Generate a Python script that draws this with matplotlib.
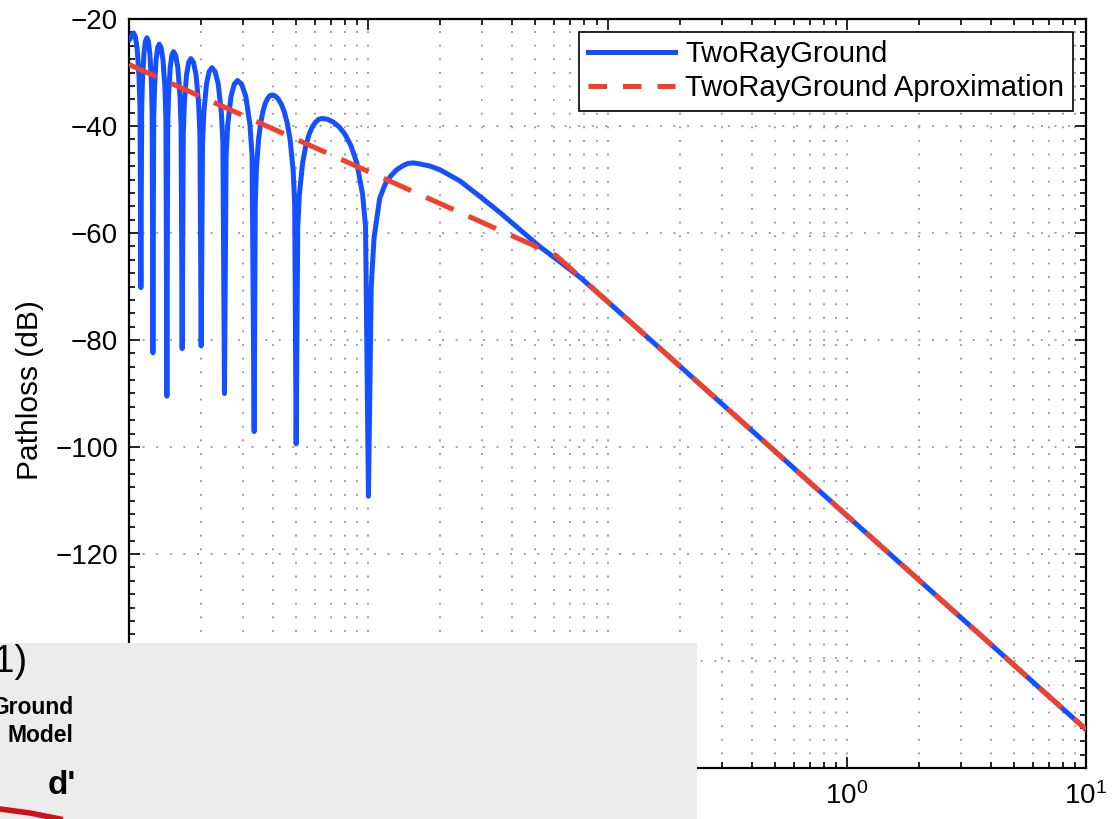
import matplotlib
matplotlib.use("Agg")
import matplotlib.pyplot as plt
import numpy as np
from matplotlib.lines import Line2D
from matplotlib.patches import Rectangle
from matplotlib.ticker import LogLocator, MultipleLocator, NullFormatter

plt.rcParams["font.family"] = ["Liberation Sans", "DejaVu Sans"]

# readings: log10(distance) and path loss in dB
two_ray_logd = [
    -3.0000, -2.9812, -2.9735, -2.9657, -2.9580, -2.9540, -2.9503,
    -2.9471, -2.9440, -2.9377, -2.9315, -2.9252, -2.9189, -2.9127, -2.9064, -2.9033, -2.9001,
    -2.8968, -2.8934, -2.8870, -2.8804, -2.8738, -2.8657, -2.8577, -2.8496, -2.8458, -2.8416,
    -2.8383, -2.8347, -2.8278, -2.8209, -2.8140, -2.8049, -2.7959, -2.7869, -2.7823, -2.7777,
    -2.7731, -2.7685, -2.7595, -2.7504, -2.7413, -2.7305, -2.7198, -2.7092, -2.7037, -2.6983,
    -2.6926, -2.6870, -2.6759, -2.6647, -2.6536, -2.6404, -2.6272, -2.6141, -2.6076, -2.6009,
    -2.5942, -2.5873, -2.5738, -2.5602, -2.5466, -2.5291, -2.5117, -2.4944, -2.4856, -2.4768,
    -2.4722, -2.4676, -2.4584, -2.4491, -2.4398, -2.4306, -2.4212, -2.4121, -2.4028,
    -2.3901, -2.3774, -2.3648, -2.3521, -2.3394, -2.3267, -2.3140, -2.3076, -2.3013,
    -2.2946, -2.2879, -2.2744, -2.2610, -2.2476, -2.2342, -2.2207, -2.2073, -2.1939,
    -2.1695, -2.1452, -2.1208, -2.0965, -2.0722, -2.0478, -2.0235, -2.0113, -1.9992,
    -1.9875, -1.9758, -1.9521, -1.9285, -1.9051, -1.8817, -1.8581, -1.8345, -1.8111,
    -1.7831, -1.7413, -1.6995, -1.6160, -1.5324, -1.4488, -1.3652, -1.2817, -1.1981, -1.1145,
    -1.0, -0.5, 0.0, 0.5, 1.0,
]
two_ray_db = [
    -24.0, -22.6, -23.3, -25.6, -30.9, -36.6, -70.2,
    -37.5, -31.8, -26.5, -24.2, -23.5, -24.2, -26.5, -31.8, -37.5, -82.4,
    -38.7, -33.0, -27.7, -25.4, -24.7, -25.4, -27.7, -33.0, -38.7, -90.5,
    -40.1, -34.4, -29.1, -26.8, -26.1, -26.8, -29.1, -34.4, -40.1, -81.6,
    -41.4, -35.7, -30.4, -28.1, -27.4, -28.1, -30.4, -35.7, -41.4, -81.1,
    -43.1, -37.4, -32.1, -29.8, -29.1, -29.8, -32.1, -37.4, -43.1, -90.0,
    -45.5, -39.8, -34.5, -32.2, -31.5, -32.2, -34.5, -39.8, -45.5, -97.1,
    -54.4, -48.2, -42.5, -39.3, -37.2, -35.8, -34.9, -34.35, -34.2,
    -34.35, -34.9, -35.8, -37.2, -39.3, -42.5, -48.2, -54.4, -99.4,
    -58.8, -52.8, -46.9, -43.7, -41.6, -40.2, -39.3, -38.75, -38.6,
    -38.75, -39.3, -40.2, -41.6, -43.7, -46.9, -52.8, -58.8, -109.2,
    -70.0, -60.9, -53.5, -50.8, -49.3, -48.2, -47.5, -47.0, -46.9,
    -47.1, -47.5, -48.2, -50.3, -53.2, -56.2, -59.4, -62.6, -65.4, -68.3,
    -72.8, -92.8, -112.8, -132.8, -152.8,
]

approx_logd = [-3.0, -1.215, 1.0]
approx_db = [-28.5, -64.2, -152.8]

series_labels = ["TwoRayGround", "TwoRayGround Aproximation"]
y_label = "Pathloss (dB)"

W, H = 1118, 819
BLUE = "#1450ff"
RED = "#f2402b"
GRID = "#a0a0a0"

fig = plt.figure(figsize=(W / 100, H / 100), dpi=100)
ax = fig.add_axes([129 / W, 51 / H, 957 / W, 749 / H])

d_two_ray = 10.0 ** np.array(two_ray_logd)
d_approx = 10.0 ** np.array(approx_logd)

ax.plot(d_two_ray, two_ray_db, color=BLUE, linewidth=3.6,
        solid_joinstyle="round", solid_capstyle="round", zorder=3)
ax.plot(d_approx, approx_db, color=RED, linewidth=3.6, dashes=(6, 3.3), zorder=4)

ax.set_xscale("log")
ax.set_xlim(1e-3, 1e1)
ax.set_ylim(-160, -20)

ax.xaxis.set_major_locator(LogLocator(base=10))
ax.xaxis.set_minor_locator(LogLocator(base=10, subs=np.arange(2, 10)))
ax.xaxis.set_minor_formatter(NullFormatter())
ax.yaxis.set_major_locator(MultipleLocator(20))
ax.yaxis.set_minor_locator(MultipleLocator(2.5))

ax.tick_params(which="both", direction="in", top=True, right=True, labelsize=20, width=1.2)
ax.tick_params(axis="x", which="major", length=8, pad=10)
ax.tick_params(axis="y", which="major", length=8, pad=8)
ax.tick_params(which="minor", length=4)

ax.set_axisbelow(True)
ax.grid(which="major", axis="both", color=GRID, linestyle=(0, (1, 6)), linewidth=1.4)
ax.grid(which="minor", axis="x", color=GRID, linestyle=(0, (1, 6)), linewidth=1.4)

for spine in ax.spines.values():
    spine.set_linewidth(1.6)
    spine.set_color("black")

ax.set_ylabel(y_label, fontsize=21.5)
ax.yaxis.set_label_coords(-0.089, 0.505)

handles = [
    Line2D([], [], color=BLUE, linewidth=3.6),
    Line2D([], [], color=RED, linewidth=3.6, dashes=(3.7, 3.2)),
]
leg = ax.legend(
    handles, series_labels,
    loc="upper right", bbox_to_anchor=(0.9864, 0.983), borderaxespad=0,
    fontsize=21, handlelength=3.0, handletextpad=0.35, labelspacing=0.2,
    borderpad=0.3, fancybox=False, framealpha=1, edgecolor="black",
)
leg.get_frame().set_linewidth(1.2)

# gray slide fragment overlapping the bottom-left of the chart
fig.add_artist(Rectangle((0, 0), 697 / W, 176 / H, transform=fig.transFigure,
                         facecolor="#ececec", edgecolor="none", zorder=5))
fig.text(28 / W, 1 - 662 / H, "(1)", fontsize=27, ha="right", va="center", zorder=6)
fig.text(73 / W, 1 - 707 / H, "Ground", fontsize=16.5, fontweight="bold", ha="right", va="center", zorder=6)
fig.text(73 / W, 1 - 735 / H, "Model", fontsize=16.5, fontweight="bold", ha="right", va="center", zorder=6)
fig.text(76 / W, 1 - 785 / H, "d'", fontsize=24, fontweight="bold", ha="right", va="center", zorder=6)
fig.add_artist(Line2D([0 / W, 30 / W, 60 / W], [1 - 809 / H, 1 - 813 / H, 1 - 819 / H],
                      transform=fig.transFigure, color="#d0101a", linewidth=4, zorder=6))

fig.savefig("out.png", dpi=100)
